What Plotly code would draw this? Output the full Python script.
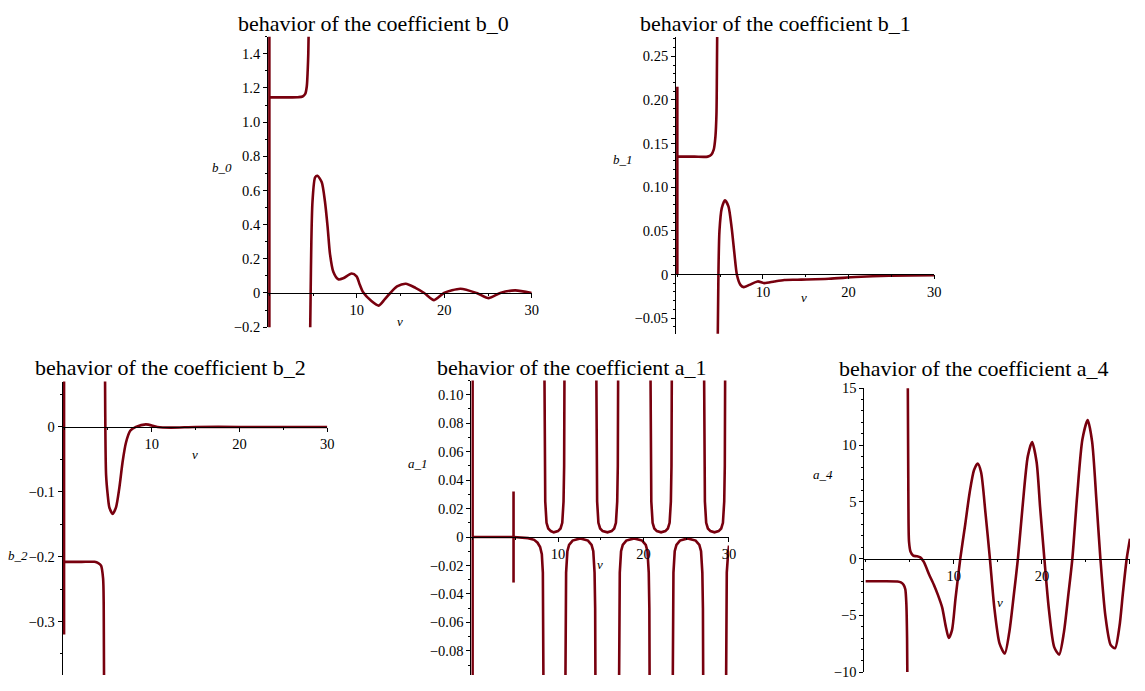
import plotly.graph_objects as go

# The page body keeps the browser's default 8px margin, so the figure is made
# 16px smaller than the window and every pixel position is shifted by 8px.
WIN_W, WIN_H = 1145, 691
OFF = 8
W, H = WIN_W - 2 * OFF, WIN_H - 2 * OFF
COLOR = "#78000E"
FONT = "Liberation Serif, Times New Roman, serif"

# ---------------- data ----------------
b0_v = [0, 0, None,
        0, 2, 3.3, 3.8, 4.1, 4.28, 4.38, 4.45, 4.5, None,
        4.66, 4.72, 4.8, 4.93, 5.23, 5.5, 5.99, 6.36, 6.67, 6.93, 7.31, 7.88, 8.44, 9.4, 9.97,
        10.34, 10.72, 11.67, 12.5, 13.18, 13.83, 14.6, 15.6, 16.7, 17.7, 18.83, 19.97,
        21.85, 23.7, 25.1, 26.4, 28.1, 30]
b0_y = [-0.3, 1.6, None,
        1.145, 1.145, 1.146, 1.15, 1.165, 1.21, 1.3, 1.4, 1.55, None,
        -0.25, 0.0, 0.3, 0.534, 0.677, 0.686, 0.648, 0.534, 0.381, 0.229, 0.124, 0.08, 0.086, 0.114, 0.097,
        0.048, 0.004, -0.047, -0.074, -0.038, 0.0, 0.038, 0.054, 0.03, 0.0, -0.042, 0.0,
        0.025, 0.0, -0.03, 0.0, 0.015, 0.0]

b1_v = [0, 0, None,
        0, 2, 3.55, 3.95, 4.25, 4.45, 4.57, 4.62, 4.66, None,
        4.72, 4.8, 4.92, 5.19, 5.57, 5.97, 6.35, 6.67, 6.97, 7.37, 7.75, 8.41, 9.38, 10.16,
        11.33, 12.5, 14.04, 17.7, 20.8, 24.7, 30]
b1_y = [0, 0.215, None,
        0.135, 0.135, 0.135, 0.137, 0.143, 0.158, 0.184, 0.23, 0.28, None,
        -0.075, 0.001, 0.05, 0.076, 0.085, 0.078, 0.053, 0.0235, -0.001, -0.012, -0.0145, -0.012, -0.008, -0.010,
        -0.008, -0.0063, -0.006, -0.005, -0.003, -0.0015, -0.001]

b2_v = [0, 0, None,
        0, 2, 3.47, 3.9, 4.22, 4.45, 4.52, 4.56, None,
        4.67, 4.79, 4.97, 5.16, 5.54, 5.92, 6.3, 6.67, 7.06, 7.54, 8.19, 9.32, 10.64, 12.15,
        15, 20, 25, 30]
b2_y = [0.08, -0.32, None,
        -0.208, -0.208, -0.208, -0.21, -0.214, -0.234, -0.274, -0.4, None,
        0.08, -0.074, -0.104, -0.124, -0.134, -0.124, -0.094, -0.054, -0.024, -0.006, 0.0, 0.004, 0.0, -0.001,
        0.0, 0.0, 0.0, 0.0]

a1_v = [0, 0, None,
        0, 2, 4.79, None,
        4.79, 4.79, None,
        4.79, 6.5, 7.2, 7.6, 7.9, 8.1, 8.22, 8.29, 8.33, None,
        8.37, 8.43, 8.5, 8.65, 8.85, 9.15, 9.5, 9.99, 10.29, 10.49, 10.64, 10.71, 10.77, None,
        10.81, 10.87, 10.94, 11.09, 11.29, 11.7, 12.6, 13.5, 13.92, 14.12, 14.27, 14.34, 14.40, None,
        14.44, 14.50, 14.57, 14.72, 14.92, 15.22, 15.78, 16.27, 16.57, 16.77, 16.92, 16.99, 17.05, None,
        17.09, 17.15, 17.22, 17.37, 17.57, 17.98, 18.9, 19.84, 20.26, 20.46, 20.61, 20.68, 20.74, None,
        20.78, 20.84, 20.91, 21.06, 21.26, 21.56, 22.05, 22.55, 22.85, 23.05, 23.20, 23.27, 23.33, None,
        23.37, 23.43, 23.50, 23.65, 23.85, 24.26, 25.15, 26.1, 26.53, 26.73, 26.88, 26.95, 27.01, None,
        27.05, 27.11, 27.18, 27.33, 27.53, 27.83, 28.3, 28.79, 29.09, 29.29, 29.44, 29.51, 29.57, None,
        29.61, 29.67, 29.74, 29.89, 30.0]
a1_y = [0.12, -0.11, None,
        0, 0, 0, None,
        -0.032, 0.032, None,
        0, -0.0008, -0.002, -0.004, -0.007, -0.012, -0.025, -0.05, -0.15, None,
        0.15, 0.05, 0.025, 0.01, 0.006, 0.0042, 0.0033, 0.0042, 0.006, 0.01, 0.025, 0.05, 0.15, None,
        -0.15, -0.05, -0.025, -0.01, -0.0055, -0.0025, -0.001, -0.0025, -0.0055, -0.01, -0.025, -0.05, -0.15, None,
        0.15, 0.05, 0.025, 0.01, 0.006, 0.0042, 0.0033, 0.0042, 0.006, 0.01, 0.025, 0.05, 0.15, None,
        -0.15, -0.05, -0.025, -0.01, -0.0055, -0.0025, -0.001, -0.0025, -0.0055, -0.01, -0.025, -0.05, -0.15, None,
        0.15, 0.05, 0.025, 0.01, 0.006, 0.0042, 0.0033, 0.0042, 0.006, 0.01, 0.025, 0.05, 0.15, None,
        -0.15, -0.05, -0.025, -0.01, -0.0055, -0.0025, -0.001, -0.0025, -0.0055, -0.01, -0.025, -0.05, -0.15, None,
        0.15, 0.05, 0.025, 0.01, 0.006, 0.0042, 0.0033, 0.0042, 0.006, 0.01, 0.025, 0.05, 0.15, None,
        -0.15, -0.05, -0.025, -0.012, -0.006]

a4_v = [0, 2, 3.6, 4.0, 4.3, 4.5, 4.62, 4.7, 4.74, None,
        4.78, 4.85, 4.92, 5.1, 5.4, 5.8, 6.2, 6.6, 7.2, 7.74, 8.2, 8.68, 9.1, 9.43, 9.8, 10.2, 10.74,
        11.3, 11.8, 12.3, 12.72, 13.1, 13.6, 14.1, 14.6, 15.2, 15.79, 16.3, 16.8, 17.28, 17.8, 18.4,
        18.89, 19.4, 19.8, 20.28, 20.8, 21.4, 21.96, 22.5, 23.0, 23.46, 24.0, 24.6, 25.2, 25.7, 26.2,
        26.64, 27.2, 27.8, 28.3, 28.8, 29.2, 29.63, 30]
a4_y = [-2, -2, -2.02, -2.1, -2.3, -2.7, -4, -7, -11, None,
        16, 5, 1.5, 0.6, 0.25, 0.2, 0.1, -0.3, -1.4, -2.3, -3.2, -4.3, -6.0, -7.0, -6.3, -3.5, 0,
        3.0, 5.8, 7.8, 8.37, 7.6, 4.0, 0, -4.3, -7.5, -8.37, -6.5, -3.3, 0, 4.5, 9.0,
        10.26, 8.5, 4.5, 0, -4.5, -7.8, -8.46, -6.5, -3.2, 0, 5.5, 10.5, 12.2, 10.3, 5.0,
        0, -5.0, -7.6, -7.9, -6.0, -3.0, 0, 1.75]

x_ticks = [10, 20, 30]
x_ticktext = ["10", "20", "30"]

b0_ticks = [-0.2, 0, 0.2, 0.4, 0.6, 0.8, 1.0, 1.2, 1.4]
b0_ticktext = ["\u22120.2", "0", "0.2", "0.4", "0.6", "0.8", "1.0", "1.2", "1.4"]
b1_ticks = [-0.05, 0, 0.05, 0.10, 0.15, 0.20, 0.25]
b1_ticktext = ["\u22120.05", "0", "0.05", "0.10", "0.15", "0.20", "0.25"]
b2_ticks = [-0.3, -0.2, -0.1, 0]
b2_ticktext = ["\u22120.3", "\u22120.2", "\u22120.1", "0"]
a1_ticks = [-0.08, -0.06, -0.04, -0.02, 0, 0.02, 0.04, 0.06, 0.08, 0.10]
a1_ticktext = ["\u22120.08", "\u22120.06", "\u22120.04", "\u22120.02", "0",
               "0.02", "0.04", "0.06", "0.08", "0.10"]
a4_ticks = [-10, -5, 0, 5, 10, 15]
a4_ticktext = ["\u221210", "\u22125", "0", "5", "10", "15"]

titles = ["behavior of the coefficient b_0", "behavior of the coefficient b_1",
          "behavior of the coefficient b_2", "behavior of the coefficient a_1",
          "behavior of the coefficient a_4"]
ylabels = ["b_0", "b_1", "b_2", "a_1", "a_4"]

# ---------------- layout geometry (window pixels) ----------------
panels = [
    dict(v=b0_v, y=b0_y, px=(271, 535), py=(29.2, 326.7), yr=(-0.2, 1.5),
         tv=b0_ticks, tt=b0_ticktext, ydt=0.1, spline=True,
         title_xy=(376, 16), ylab_xy=(223, 163), vlab_xy=(402, 321)),
    dict(v=b1_v, y=b1_y, px=(681.5, 940), py=(29.6, 333.5), yr=(-0.068, 0.272),
         tv=b1_ticks, tt=b1_ticktext, ydt=0.01, spline=True,
         title_xy=(780, 16), ylab_xy=(627, 155), vlab_xy=(809, 296)),
    dict(v=b2_v, y=b2_y, px=(64.4, 329.3), py=(382.4, 683), yr=(-0.3825, 0.07),
         tv=b2_ticks, tt=b2_ticktext, ydt=0.05, spline=True,
         title_xy=(172, 368), ylab_xy=(18, 561), vlab_xy=(196, 457)),
    dict(v=a1_v, y=a1_y, px=(475.5, 733.5), py=(381.4, 683), yr=(-0.097, 0.11),
         tv=a1_ticks, tt=a1_ticktext, ydt=0.01, spline=False,
         title_xy=(576, 368), ylab_xy=(421, 466), vlab_xy=(604, 570)),
    dict(v=a4_v, y=a4_y, px=(871, 1137), py=(389.3, 680), yr=(-10, 15),
         tv=a4_ticks, tt=a4_ticktext, ydt=1, spline=True,
         title_xy=(980, 369), ylab_xy=(828, 478), vlab_xy=(1006, 609)),
]


def fx(px):
    return (px - OFF) / W


def fy(py):
    return 1 - (py - OFF) / H


fig = go.Figure()
annotations = []
tickfont = dict(family=FONT, size=14.5, color="black")
XPAD = 0.15  # small left padding so the v=0 vertical stroke is not half-clipped

for i, p in enumerate(panels, start=1):
    xa = "x" if i == 1 else f"x{i}"
    ya = "y" if i == 1 else f"y{i}"
    line = dict(color=COLOR, width=2.6)
    if p["spline"]:
        line.update(shape="spline", smoothing=0.7)
    fig.add_trace(go.Scatter(x=p["v"], y=p["y"], mode="lines", line=line,
                             xaxis=xa, yaxis=ya, connectgaps=False,
                             showlegend=False, hoverinfo="skip"))
    x0, x1 = p["px"]
    scale = (x1 - x0) / 30.0
    x0p = x0 - XPAD * scale
    ytop, ybot = p["py"]
    ylo, yhi = p["yr"]
    y0pix = ytop + (yhi - 0) / (yhi - ylo) * (ybot - ytop)
    xkey = "xaxis" if i == 1 else f"xaxis{i}"
    ykey = "yaxis" if i == 1 else f"yaxis{i}"
    fig.update_layout(**{
        xkey: dict(domain=[fx(x0p), min(1.0, fx(x1))], range=[-XPAD, 30], anchor="free",
                   position=fy(y0pix), showline=True, linecolor="black",
                   linewidth=1, ticks="outside", ticklen=4, tickcolor="black",
                   tickvals=x_ticks, ticktext=x_ticktext, tickfont=tickfont,
                   showgrid=False, zeroline=False, fixedrange=True,
                   minor=dict(dtick=5, tick0=0, ticks="outside", ticklen=2,
                              tickcolor="black", showgrid=False)),
        ykey: dict(domain=[max(0.0, fy(ybot)), min(1.0, fy(ytop))], range=[ylo, yhi],
                   anchor=xa, showline=True, linecolor="black", linewidth=1,
                   ticks="outside", ticklen=4, tickcolor="black",
                   tickvals=p["tv"], ticktext=p["tt"], tickfont=tickfont,
                   showgrid=False, zeroline=False, fixedrange=True,
                   minor=dict(dtick=p["ydt"], tick0=0, ticks="outside", ticklen=2,
                              tickcolor="black", showgrid=False)),
    })
    tx, ty = p["title_xy"]
    annotations.append(dict(text=titles[i - 1], x=fx(tx), y=fy(ty),
                            xref="paper", yref="paper", showarrow=False,
                            xanchor="center", yanchor="middle",
                            font=dict(family=FONT, size=22, color="black")))
    lx, ly = p["ylab_xy"]
    annotations.append(dict(text=f"<i>{ylabels[i - 1]}</i>", x=fx(lx), y=fy(ly),
                            xref="paper", yref="paper", showarrow=False,
                            xanchor="center", yanchor="middle",
                            font=dict(family=FONT, size=13, color="black")))
    vx, vy = p["vlab_xy"]
    annotations.append(dict(text="<i>v</i>", x=fx(vx), y=fy(vy),
                            xref="paper", yref="paper", showarrow=False,
                            xanchor="center", yanchor="middle",
                            font=dict(family=FONT, size=13, color="black")))

fig.update_layout(width=W, height=H, margin=dict(l=0, r=0, t=0, b=0),
                  paper_bgcolor="white", plot_bgcolor="white",
                  annotations=annotations, showlegend=False)

fig.write_html("out.html", config={"displayModeBar": False})
